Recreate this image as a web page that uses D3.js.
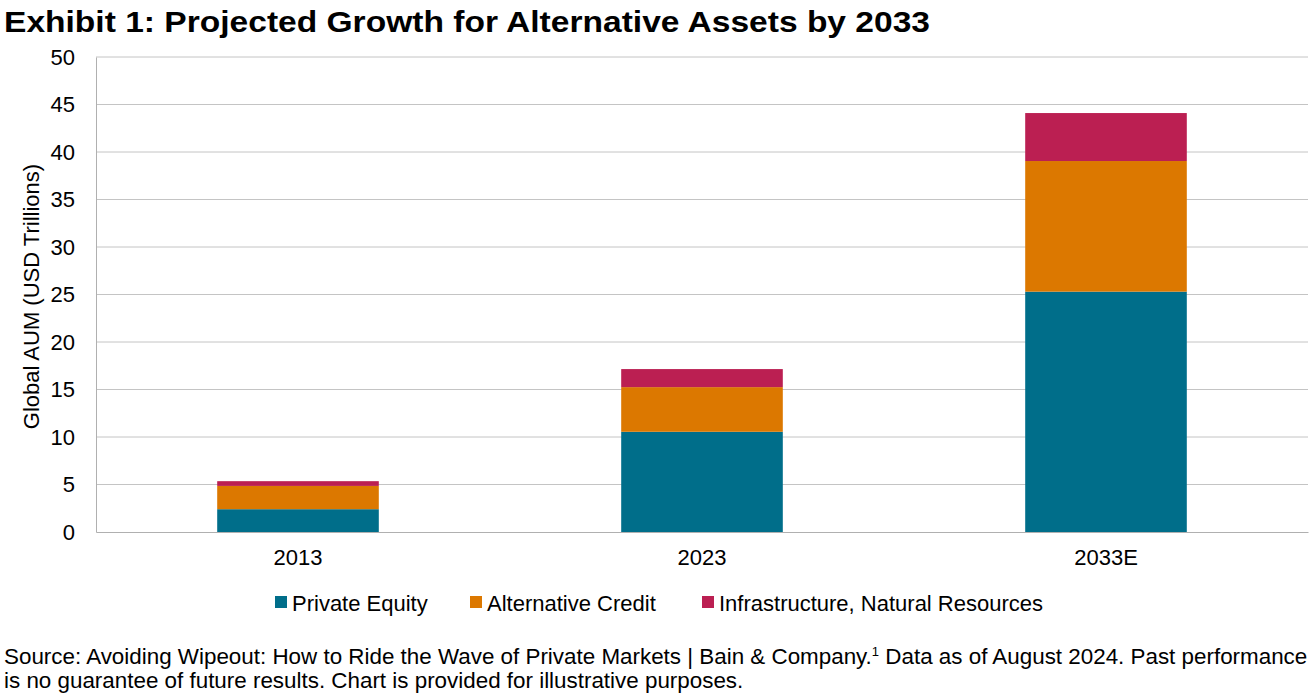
<!DOCTYPE html>
<html>
<head>
<meta charset="utf-8">
<script src="https://cdn.jsdelivr.net/npm/d3@7"></script>
<style>
  body { margin: 0; background: #fff; }
  text { font-family: "Liberation Sans", Arial, sans-serif; fill: #000; }
</style>
</head>
<body>
<div id="chart"></div>
<script>
var svgWidth = 1315;
var svgHeight = 696;

var margin = { top: 57, right: 7, bottom: 164, left: 96 };
var width = svgWidth - margin.left - margin.right;
var height = svgHeight - margin.top - margin.bottom;

// data
var years = ["2013", "2023", "2033E"];
var seriesNames = ["Private Equity", "Alternative Credit", "Infrastructure, Natural Resources"];
var privateEquity = [2.4, 10.55, 25.3];
var alternativeCredit = [2.45, 4.7, 13.75];
var infrastructure = [0.5, 1.9, 5.05];
var yTicks = [0, 5, 10, 15, 20, 25, 30, 35, 40, 45, 50];
var colors = ["#006e8a", "#dc7800", "#bb1f52"];

var rows = years.map(function(y, i) {
  return { year: y, pe: privateEquity[i], ac: alternativeCredit[i], inf: infrastructure[i] };
});

var svg = d3.select("#chart")
  .append("svg")
  .attr("width", svgWidth)
  .attr("height", svgHeight);

svg.append("text")
  .attr("x", 4)
  .attr("y", 32)
  .attr("font-size", "30px")
  .attr("font-weight", "bold")
  .attr("textLength", 926)
  .attr("lengthAdjust", "spacingAndGlyphs")
  .text("Exhibit 1: Projected Growth for Alternative Assets by 2033");

var chartGroup = svg.append("g")
  .attr("transform", `translate(${margin.left}, ${margin.top})`);

var xScale = d3.scaleBand()
  .domain(years)
  .range([0, width])
  .paddingInner(0.6)
  .paddingOuter(0.3);

var yScale = d3.scaleLinear()
  .domain([0, 50])
  .range([height, 0]);

// gridlines
chartGroup.selectAll(".grid")
  .data(yTicks.slice(1))
  .enter()
  .append("line")
  .attr("x1", 0)
  .attr("x2", width)
  .attr("y1", d => yScale(d))
  .attr("y2", d => yScale(d))
  .attr("stroke", "#c4c4c4")
  .attr("stroke-width", 1);

// stacked bars
var stack = d3.stack().keys(["pe", "ac", "inf"]);
var layers = stack(rows);

chartGroup.selectAll(".layer")
  .data(layers)
  .enter()
  .append("g")
  .attr("fill", (d, i) => colors[i])
  .selectAll("rect")
  .data(d => d)
  .enter()
  .append("rect")
  .attr("x", d => xScale(d.data.year))
  .attr("width", xScale.bandwidth())
  .attr("y", d => yScale(d[1]))
  .attr("height", d => yScale(d[0]) - yScale(d[1]));

// axes
var leftAxis = d3.axisLeft(yScale).tickValues(yTicks).tickSize(0).tickPadding(21);
var bottomAxis = d3.axisBottom(xScale).tickSize(0).tickPadding(17);

var yAxisG = chartGroup.append("g").call(leftAxis);
yAxisG.select(".domain").attr("stroke", "#b0b0b0");
yAxisG.selectAll("text").attr("font-size", "22px").attr("font-family", "Liberation Sans, Arial, sans-serif").attr("fill", "#000");

var xAxisG = chartGroup.append("g")
  .attr("transform", `translate(0, ${height})`)
  .call(bottomAxis);
xAxisG.select(".domain").attr("stroke", "#b0b0b0");
xAxisG.selectAll("text").attr("font-size", "22px").attr("font-family", "Liberation Sans, Arial, sans-serif").attr("fill", "#000");

// y axis title
chartGroup.append("text")
  .attr("transform", "rotate(-90)")
  .attr("x", 0 - (height / 2) - 2)
  .attr("y", 0 - margin.left + 39)
  .attr("text-anchor", "middle")
  .attr("font-size", "22px")
  .text("Global AUM (USD Trillions)");

// legend
var legendX = [275, 470, 702];
var legend = svg.selectAll(".legend")
  .data(seriesNames)
  .enter()
  .append("g")
  .attr("transform", (d, i) => `translate(${legendX[i]}, 603)`);

legend.append("rect")
  .attr("x", 0)
  .attr("y", -7)
  .attr("width", 12)
  .attr("height", 12)
  .attr("fill", (d, i) => colors[i]);

legend.append("text")
  .attr("x", 17)
  .attr("y", 0)
  .attr("dy", "0.35em")
  .attr("font-size", "22px")
  .text(d => d);

// footer
var footer = svg.append("text")
  .attr("x", 4)
  .attr("y", 664)
  .attr("font-size", "22.4px");
footer.append("tspan").text("Source: Avoiding Wipeout: How to Ride the Wave of Private Markets | Bain & Company.");
footer.append("tspan").attr("font-size", "13px").attr("dy", "-8").text("1");
footer.append("tspan").attr("dy", "8").text(" Data as of August 2024. Past performance");

svg.append("text")
  .attr("x", 4)
  .attr("y", 688)
  .attr("font-size", "22.4px")
  .text("is no guarantee of future results. Chart is provided for illustrative purposes.");
</script>
</body>
</html>
